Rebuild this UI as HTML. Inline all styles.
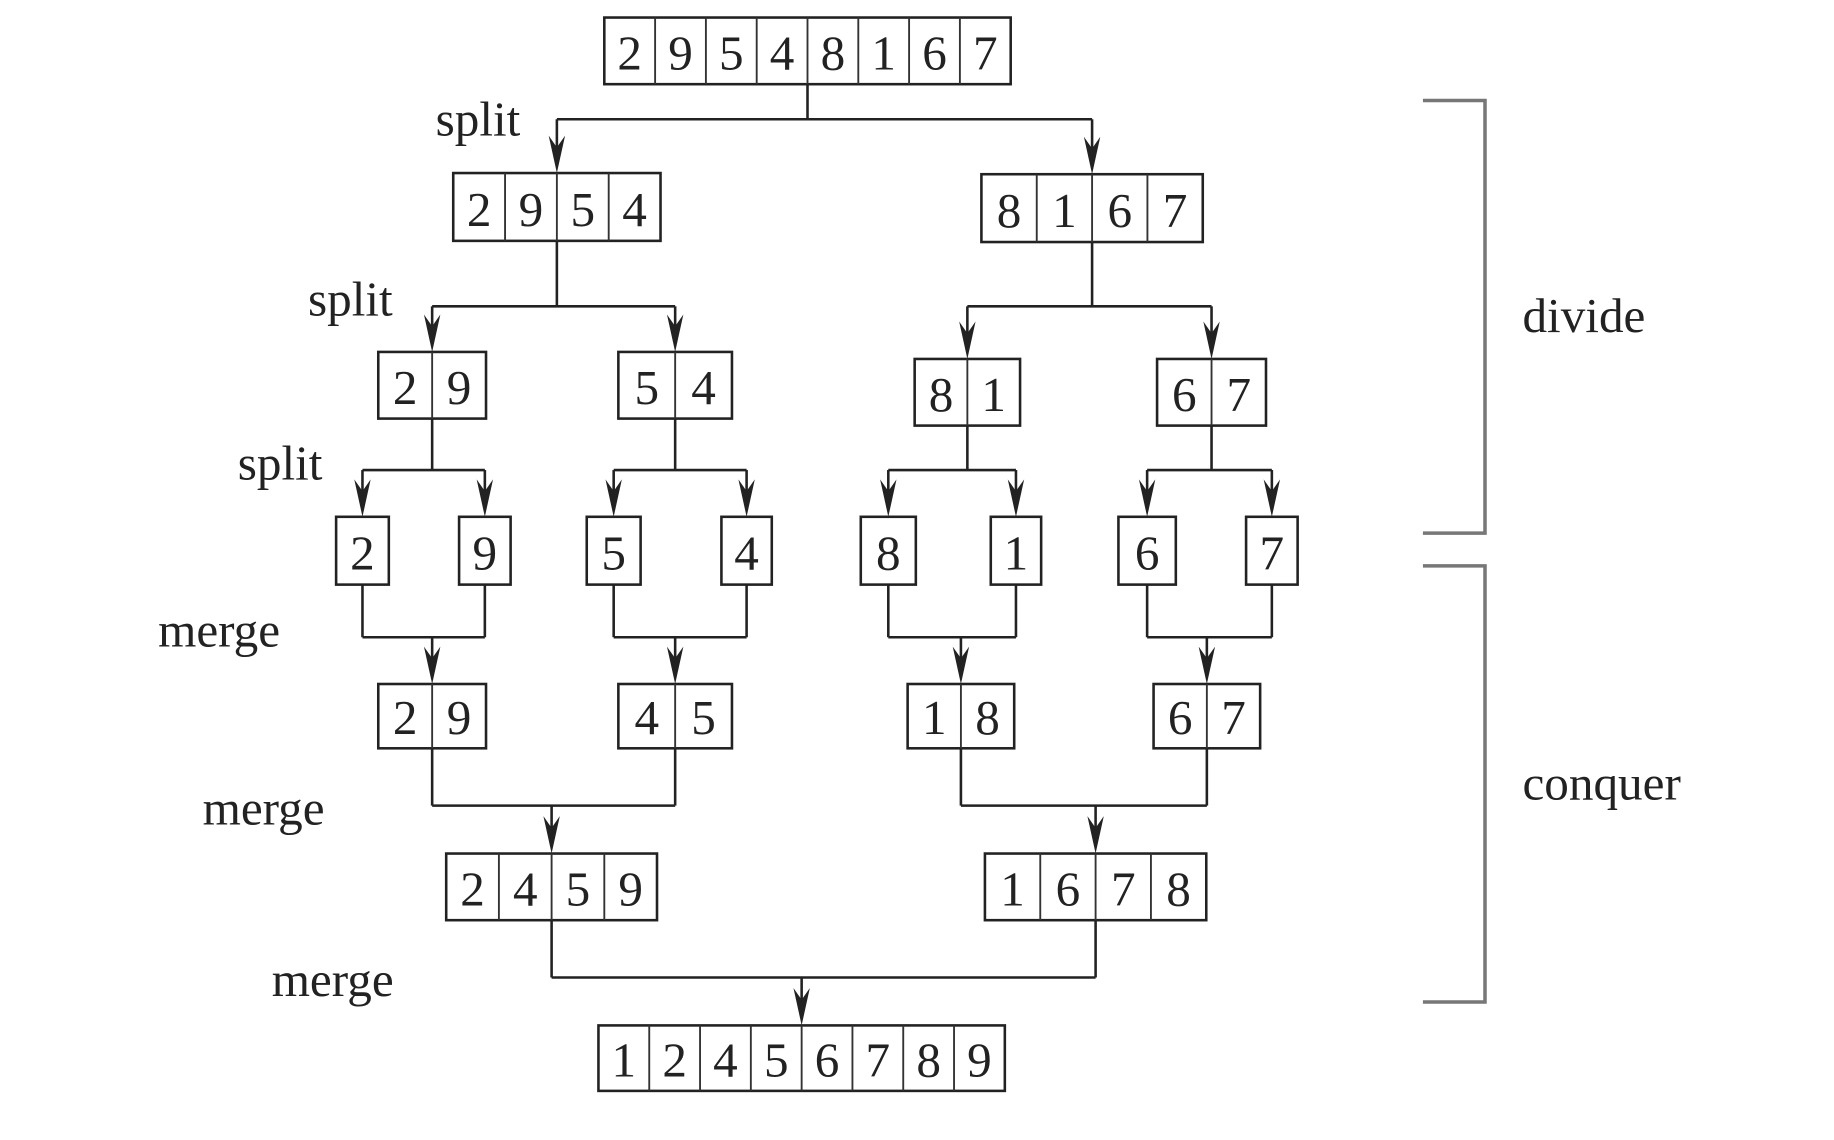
<!DOCTYPE html>
<html><head><meta charset="utf-8"><style>
html,body{margin:0;padding:0;background:#fff;}
svg{display:block;}
text{font-family:"Liberation Serif",serif;fill:#222;}
</style></head><body>
<svg id="chart" width="1834" height="1140" viewBox="0 0 1566 975" preserveAspectRatio="none" xmlns="http://www.w3.org/2000/svg">
<g id="lines"></g><g id="boxes"></g>
<g stroke="#777" stroke-width="3" fill="none">
<polyline points="1215,86 1268,86 1268,456 1215,456"/>
</g>
<g stroke="#777" stroke-width="3" fill="none">
<polyline points="1215,484 1268,484 1268,857 1215,857"/>
</g>
<text x="1300" y="284" font-size="42">divide</text>
<text x="1300" y="684" font-size="42">conquer</text>
<text x="372" y="116" font-size="42">split</text>
<text x="263" y="270" font-size="42">split</text>
<text x="203" y="410" font-size="42">split</text>
<text x="135" y="553" font-size="42">merge</text>
<text x="173" y="705" font-size="42">merge</text>
<text x="232" y="852" font-size="42">merge</text>
</svg>
<script>
const level0 = [[2,9,5,4,8,1,6,7]];
const level1 = [[2,9,5,4],[8,1,6,7]];
const level2 = [[2,9],[5,4],[8,1],[6,7]];
const level3 = [[2],[9],[5],[4],[8],[1],[6],[7]];
const level4 = [[2,9],[4,5],[1,8],[6,7]];
const level5 = [[2,4,5,9],[1,6,7,8]];
const level6 = [[1,2,4,5,6,7,8,9]];
// layout: [x0, x1, y0, y1] per box
const L0 = [[516,863,15,72]];
const L1 = [[387,564,148,206],[838,1027,149,207]];
const L2 = [[323,415,301,358],[528,625,301,358],[781,871,307,364],[988,1081,307,364]];
const L3 = [[287,332,442,500],[392,436,442,500],[501,547,442,500],[616,659,442,500],[735,782,442,500],[846,889,442,500],[955,1004,442,500],[1064,1108,442,500]];
const L4 = [[323,415,585,640],[528,625,585,640],[775,866,585,640],[985,1076,585,640]];
const L5 = [[381,561,730,787],[841,1030,730,787]];
const L6 = [[511,858,877,933]];
const NS='http://www.w3.org/2000/svg';
const gB=document.getElementById('boxes'), gL=document.getElementById('lines');
function mk(tag,attrs,parent){const e=document.createElementNS(NS,tag);for(const k in attrs)e.setAttribute(k,attrs[k]);parent.appendChild(e);return e;}
function drawLevel(vals,lay,lv){
  vals.forEach((arr,i)=>{
    const [x0,x1,y0,y1]=lay[i];const w=(x1-x0)/arr.length;
    const g=mk('g',{},gB);
    
    
    mk('rect',{x:x0,y:y0,width:x1-x0,height:y1-y0,fill:'#fff',stroke:'#222','stroke-width':2.2},g);
    arr.forEach((v,j)=>{
      if(j>0)mk('line',{x1:x0+j*w,x2:x0+j*w,y1:y0,y2:y1,stroke:'#333','stroke-width':1.6},g);
      const t=mk('text',{x:x0+(j+0.5)*w,y:y0+(y1-y0)*0.78,'text-anchor':'middle','font-size':42},g);
      t.textContent=v;
    });
  });
}
function cx(b){return (b[0]+b[1])/2;}
function arrow(x,yTop,yTip){
  const g=mk('g',{},gL);
  
  
  mk('line',{x1:x,x2:x,y1:yTop,y2:yTip-10,stroke:'#222','stroke-width':2.2},g);
  mk('path',{d:`M${x-7},${yTip-32} L${x},${yTip} L${x+7},${yTip-32} L${x},${yTip-22} Z`,fill:'#222'},g);
}
function ln(x1,y1,x2,y2){const l=mk('line',{x1,y1,x2,y2,stroke:'#222','stroke-width':2.2},gL);
  
  }
function split(parent,kids,yh){
  ln(cx(parent),parent[3],cx(parent),yh);
  ln(cx(kids[0]),yh,cx(kids[1]),yh);
  kids.forEach(k=>arrow(cx(k),yh,k[2]));
}
split(L0[0],[L1[0],L1[1]],102);
split(L1[0],[L2[0],L2[1]],262);
split(L1[1],[L2[2],L2[3]],262);
for(let i=0;i<4;i++) split(L2[i],[L3[2*i],L3[2*i+1]],402);
function merge(kids,child,yh){
  kids.forEach(k=>ln(cx(k),k[3],cx(k),yh));
  ln(cx(kids[0]),yh,cx(kids[1]),yh);
  arrow(cx(child),yh,child[2]);
}
for(let i=0;i<4;i++) merge([L3[2*i],L3[2*i+1]],L4[i],545);
merge([L4[0],L4[1]],L5[0],689);
merge([L4[2],L4[3]],L5[1],689);
merge([L5[0],L5[1]],L6[0],836);
[[level0,L0],[level1,L1],[level2,L2],[level3,L3],[level4,L4],[level5,L5],[level6,L6]].forEach((p,i)=>drawLevel(p[0],p[1],i));
</script>
</body></html>
